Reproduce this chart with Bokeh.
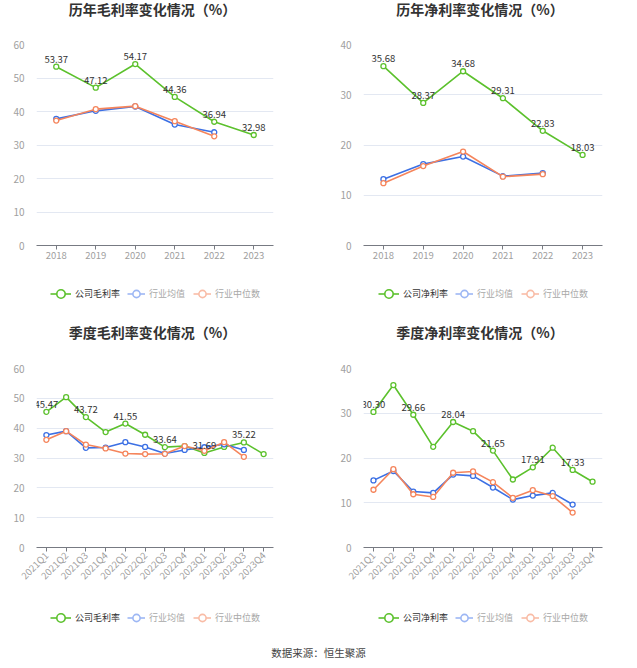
import math
from bokeh.plotting import figure
from bokeh.models import Range1d, FactorRange, Legend, LegendItem, Label, FixedTicker
from bokeh.layouts import column, row
from bokeh.embed import file_html
from bokeh.resources import INLINE
from bokeh.core.properties import value

FONT = "Noto Sans CJK SC"

years = ["2018", "2019", "2020", "2021", "2022", "2023"]
gross_company = [53.37, 47.12, 54.17, 44.36, 36.94, 32.98]
gross_mean = [37.8, 40.2, 41.5, 36.1, 33.8]
gross_median = [37.3, 40.7, 41.6, 37.1, 32.6]

net_company = [35.68, 28.37, 34.68, 29.31, 22.83, 18.03]
net_mean = [13.2, 16.2, 17.7, 13.8, 14.4]
net_median = [12.4, 15.8, 18.7, 13.7, 14.2]

quarters = ["2021Q1", "2021Q2", "2021Q3", "2021Q4", "2022Q1", "2022Q2",
            "2022Q3", "2022Q4", "2023Q1", "2023Q2", "2023Q3", "2023Q4"]
q_gross_company = [45.47, 50.4, 43.72, 38.7, 41.55, 37.8, 33.64, 34.0, 31.69, 33.7, 35.22, 31.3]
q_gross_mean = [37.7, 39.0, 33.4, 33.5, 35.3, 33.7, 31.5, 32.7, 33.6, 34.6, 32.7]
q_gross_median = [36.1, 39.0, 34.5, 33.2, 31.5, 31.3, 31.4, 34.0, 32.4, 35.3, 30.4]

q_net_company = [30.30, 36.3, 29.66, 22.5, 28.04, 26.0, 21.65, 15.2, 17.91, 22.3, 17.33, 14.7]
q_net_mean = [15.0, 17.1, 12.5, 12.2, 16.3, 16.0, 13.4, 10.7, 11.6, 12.2, 9.6]
q_net_median = [12.9, 17.5, 11.9, 11.3, 16.7, 17.0, 14.6, 11.1, 12.8, 11.5, 7.8]

annual_label_idx = [0, 1, 2, 3, 4, 5]
quarter_label_idx = [0, 2, 4, 6, 8, 10]

GREEN = "#5cc12d"
BLUE = "#3c70e4"
ORANGE = "#f5855c"
BLUE_L = "#9db7f4"
ORANGE_L = "#f9bca6"


def blank(width, height):
    f = figure(width=width, height=height, x_range=Range1d(0, 1), y_range=Range1d(0, 1),
               output_backend="svg", toolbar_location=None, x_axis_type=None,
               y_axis_type=None, min_border=0)
    f.outline_line_color = None
    f.grid.visible = False
    f.title.visible = False
    return f


def chart(cats, company, mean, median, ymax, label_idx, width, height, bl, br, bb, rotated):
    p = figure(x_range=FactorRange(*cats, range_padding=0), y_range=Range1d(0, ymax),
               width=width, height=height, output_backend="svg", toolbar_location=None,
               min_border_left=bl, min_border_right=br, min_border_top=6, min_border_bottom=bb)
    p.title.visible = False
    p.outline_line_color = None
    p.xgrid.grid_line_color = None
    p.ygrid.grid_line_color = "#e3e8f2"
    p.ygrid.grid_line_width = 1
    p.yaxis.ticker = FixedTicker(ticks=list(range(0, ymax + 1, 10)))
    p.yaxis.axis_line_color = None
    p.yaxis.major_tick_line_color = None
    p.yaxis.minor_tick_line_color = None
    p.yaxis.major_label_standoff = 6
    p.yaxis.major_label_text_color = "#a0a0a0"
    p.yaxis.major_label_text_font = FONT
    p.yaxis.major_label_text_font_size = "10px"
    p.xaxis.axis_line_color = "#777a82"
    p.xaxis.major_tick_line_color = "#777a82"
    p.xaxis.major_tick_out = 4
    p.xaxis.major_tick_in = 0
    p.xaxis.major_label_standoff = 2
    p.xaxis.major_label_text_color = "#a0a0a0"
    p.xaxis.major_label_text_font = FONT
    p.xaxis.major_label_text_font_size = "9.5px"
    if rotated:
        p.xaxis.major_label_orientation = math.pi / 4

    mcats = cats[:len(mean)]
    p.line(cats, company, line_color=GREEN, line_width=1.6)
    p.scatter(cats, company, size=5, line_color=GREEN, fill_color="white", line_width=1.3)
    p.line(mcats, mean, line_color=BLUE, line_width=1.6)
    p.scatter(mcats, mean, size=5, line_color=BLUE, fill_color="white", line_width=1.3)
    p.line(mcats, median, line_color=ORANGE, line_width=1.6)
    p.scatter(mcats, median, size=5, line_color=ORANGE, fill_color="white", line_width=1.3)

    lx = [cats[i] for i in label_idx]
    ly = [company[i] for i in label_idx]
    lt = ["%.2f" % company[i] for i in label_idx]
    p.text(lx, ly, text=lt, text_align="center", text_baseline="bottom", y_offset=-4,
           text_font=value(FONT), text_font_size="9.5px", text_color="#333333")
    return p


def title_fig(text, width, height, cx, cy):
    f = blank(width, height)
    f.add_layout(Label(x=cx, y=cy, x_units="screen", y_units="screen", text=text,
                       text_align="center", text_baseline="middle", text_font=FONT,
                       text_font_size="14px", text_font_style="bold", text_color="#333333"))
    return f


def legend_fig(cname, width, height, xa, xb, y):
    f = blank(width, height)
    off = [-10]  # legend-only renderers, kept outside the visible range
    g_l = f.line(off, off, line_color=GREEN, line_width=1.6)
    g_c = f.scatter(off, off, line_color=GREEN, fill_color="white", line_width=1.6)
    b_l = f.line(off, off, line_color=BLUE_L, line_width=1.6)
    b_c = f.scatter(off, off, line_color=BLUE_L, fill_color="white", line_width=1.6)
    o_l = f.line(off, off, line_color=ORANGE_L, line_width=1.6)
    o_c = f.scatter(off, off, line_color=ORANGE_L, fill_color="white", line_width=1.6)

    def mk(items, loc, color, gw):
        lg = Legend(items=items, location=loc, orientation="horizontal",
                    glyph_width=gw, glyph_height=23, label_standoff=4, spacing=8,
                    padding=0, margin=0, border_line_color=None, background_fill_alpha=0,
                    label_text_font=FONT, label_text_font_size="9px",
                    label_text_color=color, label_height=12)
        f.add_layout(lg, "center")

    mk([LegendItem(label=cname, renderers=[g_l, g_c])], (xa, y), "#333333", 21)
    mk([LegendItem(label="行业均值", renderers=[b_l, b_c]),
        LegendItem(label="行业中位数", renderers=[o_l, o_c])], (xb, y), "#a8a8a8", 18)
    return f


LW = 320
RW = 317

# top-left  (frame x: 36..273)
t1 = title_fig("历年毛利率变化情况（%）", LW, 38, 116, 30)
c1 = chart(years, gross_company, gross_mean, gross_median, 60, annual_label_idx,
           LW, 232, 36, 47, 25, False)
l1 = legend_fig("公司毛利率", LW, 50, 14, 91, 15.5)
# top-right  (frame x: 363..602)
t2 = title_fig("历年净利率变化情况（%）", RW, 38, 116.5, 30)
c2 = chart(years, net_company, net_mean, net_median, 40, annual_label_idx,
           RW, 232, 43, 35, 25, False)
l2 = legend_fig("公司净利率", RW, 50, 15, 92, 15.5)
# bottom-left
t3 = title_fig("季度毛利率变化情况（%）", LW, 42, 116, 31)
c3 = chart(quarters, q_gross_company, q_gross_mean, q_gross_median, 60, quarter_label_idx,
           LW, 230, 36, 47, 45, True)
l3 = legend_fig("公司毛利率", LW, 48, 14, 91, 11.5)
# bottom-right
t4 = title_fig("季度净利率变化情况（%）", RW, 42, 116.5, 31)
c4 = chart(quarters, q_net_company, q_net_mean, q_net_median, 40, quarter_label_idx,
           RW, 230, 43, 35, 45, True)
l4 = legend_fig("公司净利率", RW, 48, 15, 92, 11.5)

foot = blank(LW + RW, 28)
foot.add_layout(Label(x=318, y=16, x_units="screen", y_units="screen", text="数据来源：恒生聚源",
                      text_align="center", text_baseline="middle", text_font=FONT,
                      text_font_size="10.5px", text_color="#444444"))

layout = column(
    row(column(t1, c1, l1, spacing=0), column(t2, c2, l2, spacing=0), spacing=0),
    row(column(t3, c3, l3, spacing=0), column(t4, c4, l4, spacing=0), spacing=0),
    foot, spacing=0)
open("out.html", "w").write(file_html(layout, INLINE))
